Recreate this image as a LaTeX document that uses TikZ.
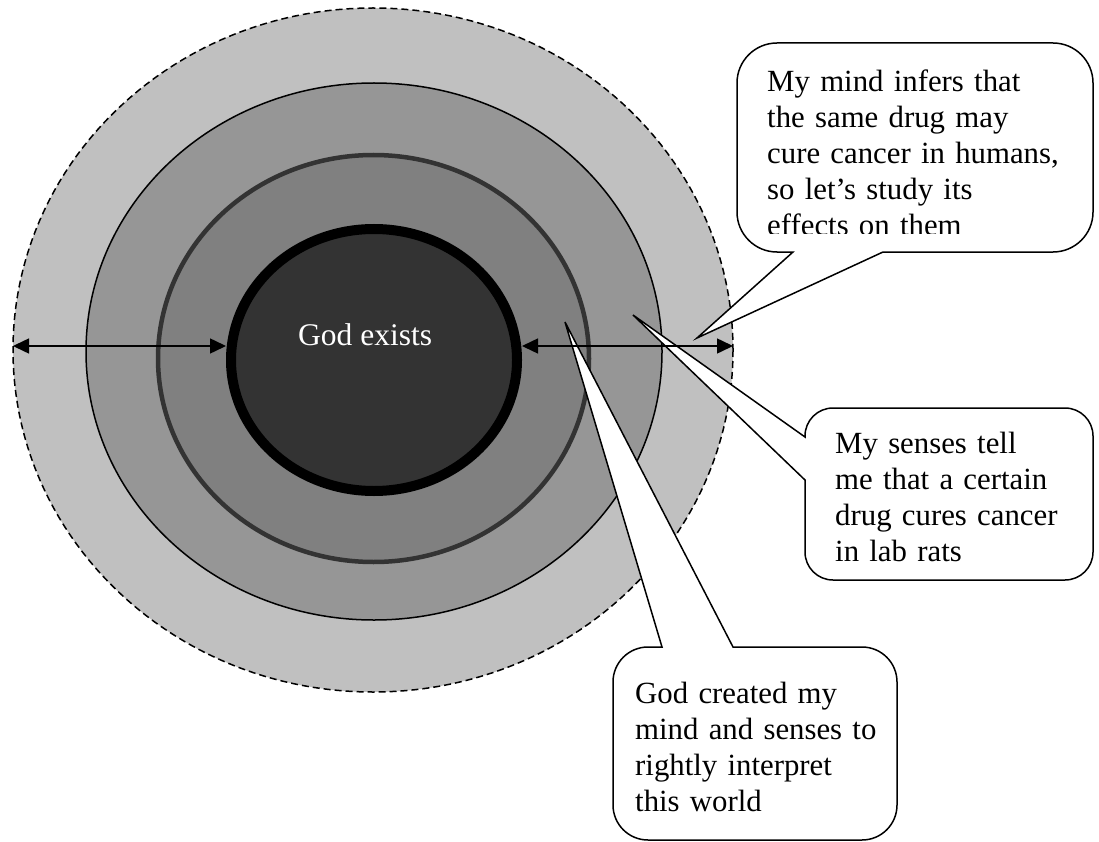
\documentclass[tikz,border=0pt]{standalone}
\usepackage{fontspec}
\setmainfont{Liberation Serif}
\usetikzlibrary{arrows.meta}
\definecolor{ringOuter}{HTML}{C0C0C0}
\definecolor{ringMid}{HTML}{969696}
\definecolor{ringIn}{HTML}{808080}
\definecolor{core}{HTML}{333333}
\begin{document}
\begin{tikzpicture}[x=1pt,y=-1pt,
  ringline/.style={line width=1.5pt},
  dimarrow/.style={line width=1.5pt,{Triangle[length=16pt,width=15pt]}-{Triangle[length=16pt,width=15pt]}},
  callout/.style={draw=black,fill=white,line width=1.5pt},
  bubbletext/.style={anchor=base west,inner sep=0pt,text width=340pt,align=left,
     font=\fontsize{30.8}{36}\selectfont},
]
\useasboundingbox (0,0) rectangle (1099,842);
% rings
\draw[ringline,dash pattern=on 7pt off 4pt,fill=ringOuter] (373,350) ellipse [x radius=360,y radius=342];
\draw[ringline,fill=ringMid] (374,351.5) ellipse [x radius=288,y radius=268.5];
\draw[line width=4.5pt,draw=core,fill=ringIn] (373.5,358.5) ellipse [x radius=215.5,y radius=203.5];
\draw[line width=10pt,draw=black,fill=core] (374,360) ellipse [x radius=143,y radius=131];
\node[anchor=base west,inner sep=0pt,text=white,font=\fontsize{31.5}{36}\selectfont] (god) at (298,345) {God exists};
% arrows
\coordinate (outerL) at (13,346);
\coordinate (coreL) at (226,346);
\coordinate (coreR) at (522,346);
\coordinate (outerR) at (733,346);
% callout 1 (top)
\draw[callout] (883,252) [rounded corners=40pt] -- (1093,252) -- (1093,43) -- (737,43) -- (737,252) [sharp corners] -- (793,252) -- (697,338) -- cycle;
\begin{scope}
\clip (737,43) rectangle (1093,234);
\node[bubbletext] (infer) at (767,92) {My mind infers that\\the same drug may\\cure cancer in humans,\\so let’s study its\\effects on them};
\end{scope}
% callout 2 (right)
\draw[callout] (805,480) [rounded corners=28pt] -- (805,580) -- (1093,580) -- (1093,408) -- (805,408) [sharp corners] -- (805,437) -- (633,315) -- cycle;
\node[bubbletext] (senses) at (835,453) {My senses tell\\me that a certain\\drug cures cancer\\in lab rats};
% callout 3 (bottom)
\draw[callout] (733,647) [rounded corners=35pt] -- (897,647) -- (897,840) -- (613,840) -- (613,647) [sharp corners] -- (662,647) -- (565,322) -- cycle;
\node[bubbletext] (created) at (635,703) {God created my\\mind and senses to\\rightly interpret\\this world};
% arrows on top
\draw[dimarrow] (outerL) -- (coreL);
\draw[dimarrow] (coreR) -- (outerR);
\end{tikzpicture}
\end{document}
